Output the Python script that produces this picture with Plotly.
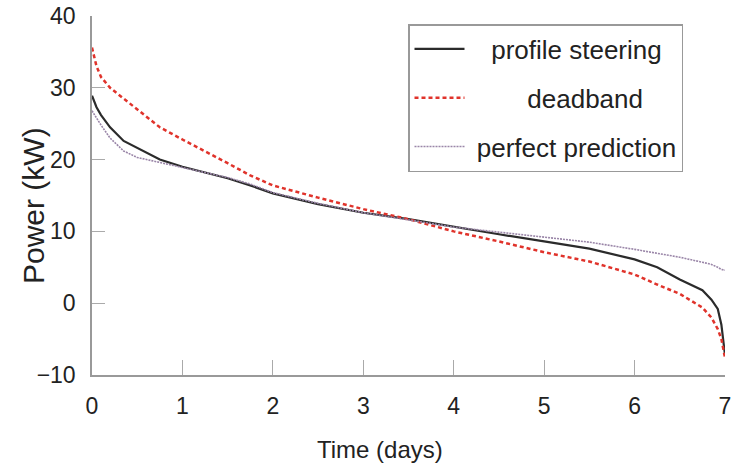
import plotly.graph_objects as go

# Time axis (days)
time_days = [0, 0.05, 0.1, 0.2, 0.35, 0.5, 0.75, 1.0, 1.25, 1.5, 1.75, 2.0, 2.5, 3.0,
             3.5, 4.0, 4.5, 5.0, 5.5, 6.0, 6.25, 6.5, 6.75, 6.85, 6.92, 6.96, 7.0]

profile_steering = [28.9, 27.3, 26.2, 24.5, 22.6, 21.6, 20.0, 19.0, 18.2, 17.4, 16.4, 15.3, 13.8, 12.6,
                    11.7, 10.6, 9.6, 8.6, 7.6, 6.1, 5.0, 3.3, 1.8, 0.5, -0.8, -3.0, -7.2]

deadband = [35.6, 33.0, 31.5, 30.0, 28.5, 27.0, 24.5, 22.8, 21.2, 19.5, 17.8, 16.4, 14.7, 13.1,
            11.7, 10.0, 8.6, 7.1, 5.8, 4.0, 2.6, 1.3, -0.6, -2.0, -3.6, -5.0, -7.6]

perfect_prediction = [26.8, 25.8, 24.8, 23.0, 21.2, 20.3, 19.6, 18.9, 18.2, 17.5, 16.6, 15.4, 13.9, 12.6,
                      11.6, 10.6, 9.9, 9.2, 8.5, 7.5, 7.0, 6.4, 5.7, 5.4, 5.0, 4.7, 4.6]

x_ticks = [0, 1, 2, 3, 4, 5, 6, 7]
y_ticks = [-10, 0, 10, 20, 30, 40]

series_names = ["profile steering", "deadband", "perfect prediction"]
# non-breaking-space padding to centre the legend texts as in the reference
legend_pad = [3, 8, 1]

FONT = "Liberation Sans, Arial, sans-serif"
NB = "\u00a0"

W, H = 738, 465
PLOT_L, PLOT_R, PLOT_T, PLOT_B = 92, 725, 16, 375
PW, PH = PLOT_R - PLOT_L, PLOT_B - PLOT_T


def px(xp):
    return (xp - PLOT_L) / PW


def py(yp):
    return (PLOT_B - yp) / PH


fig = go.Figure()
fig.add_trace(go.Scatter(x=time_days, y=profile_steering, mode="lines",
                         name=NB * legend_pad[0] + series_names[0],
                         legendgroup="a", line=dict(color="#2b2b2b", width=2.2)))
fig.add_trace(go.Scatter(x=time_days, y=deadband, mode="lines",
                         name=NB * legend_pad[1] + series_names[1],
                         legendgroup="b", line=dict(color="#e0332b", width=2.5, dash="4px,3px")))
fig.add_trace(go.Scatter(x=time_days, y=perfect_prediction, mode="lines",
                         name=NB * legend_pad[2] + series_names[2],
                         legendgroup="c", line=dict(color="#9a86a8", width=1.6, dash="2px,1px")))

fig.update_layout(
    width=W, height=H,
    margin=dict(l=PLOT_L, r=W - PLOT_R, t=PLOT_T, b=H - PLOT_B),
    paper_bgcolor="white", plot_bgcolor="white",
    font=dict(family=FONT, color="#222", size=23),
    showlegend=True,
    legend=dict(x=px(408), y=py(24), xanchor="left", yanchor="top",
                bgcolor="white", bordercolor="#999", borderwidth=1.5,
                font=dict(family=FONT, size=26, color="#222"),
                tracegroupgap=12, itemwidth=50),
    xaxis=dict(range=[0, 7], tickvals=x_ticks, ticks="inside", ticklen=15, tickcolor="#aaa",
               tickwidth=1.2, showline=True, linecolor="#999", linewidth=1.5,
               showgrid=False, zeroline=False, ticklabelstandoff=10, automargin=False,
               tickfont=dict(size=23, color="#222")),
    yaxis=dict(range=[-10, 40], tickvals=y_ticks, ticks="inside", ticklen=13, tickcolor="#aaa",
               tickwidth=1.2, showline=True, linecolor="#999", linewidth=1.5,
               showgrid=False, zeroline=False, ticklabelstandoff=10, automargin=False,
               tickfont=dict(size=23, color="#222")),
    annotations=[
        dict(text="Time (days)", xref="paper", yref="paper", x=px(380), y=py(449),
             xanchor="center", yanchor="middle", showarrow=False,
             font=dict(family=FONT, size=24, color="#222")),
        dict(text="Power (kW)", xref="paper", yref="paper", x=px(33), y=py(206),
             xanchor="center", yanchor="middle", textangle=-90, showarrow=False,
             font=dict(family=FONT, size=30, color="#222")),
    ],
)

# remove the default 8px body margin so the figure sits at the page origin
fig.write_html("out.html", config={"displayModeBar": False},
               post_script="document.body.style.margin='0';")
